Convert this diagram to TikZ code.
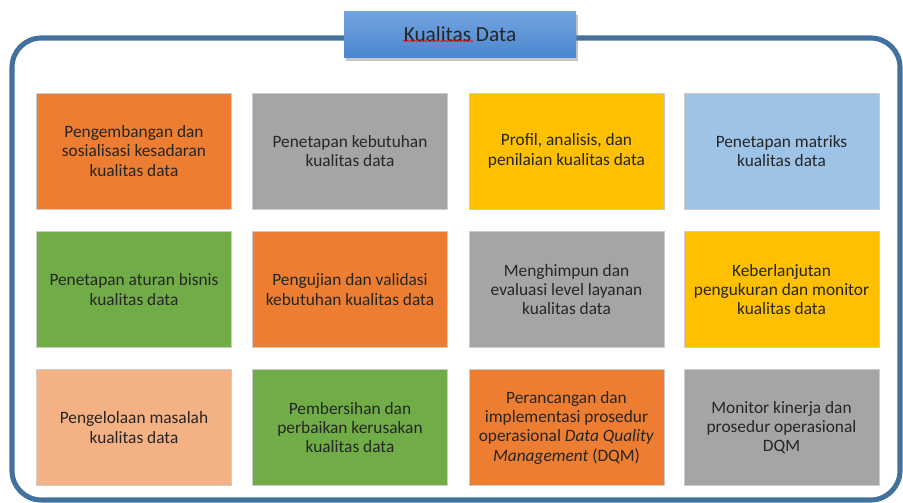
\documentclass[tikz,border=0pt]{standalone}
\usepackage{fontspec}
\setmainfont{Carlito}
\usepackage{tikz}
\usetikzlibrary{shadows,decorations.pathmorphing}

\definecolor{framecol}{HTML}{41719C}
\definecolor{orangebox}{HTML}{ED7D31}
\definecolor{graybox}{HTML}{A5A5A5}
\definecolor{goldbox}{HTML}{FFC000}
\definecolor{bluebox}{HTML}{9DC3E6}
\definecolor{greenbox}{HTML}{70AD47}
\definecolor{peachbox}{HTML}{F4B183}
\definecolor{titletop}{HTML}{72A4DF}
\definecolor{titlebot}{HTML}{4A86CE}

\tikzset{
  kbox/.style={rectangle,draw=white!80!black,line width=0.4pt,minimum width=146pt,minimum height=87pt,
    align=center,text=black!85,font=\fontsize{13}{14.5}\selectfont},
  titlebox/.style={rectangle,minimum width=174pt,minimum height=34.5pt,top color=titletop,bottom color=titlebot,
    drop shadow={shadow xshift=1.5pt,shadow yshift=-2pt,opacity=0.45},font=\fontsize{16}{18}\selectfont,text=black!85}
}

\begin{document}
\begin{tikzpicture}[x=0.75pt,y=-0.75pt]
\useasboundingbox (0,0) rectangle (903,503);
\draw[framecol,line width=3.8pt,rounded corners=22pt] (12,38) rectangle (900,500);

\node[titlebox] (judul) at (460,35) {\raisebox{1.5pt}{Kualitas Data}};
\draw[red,line width=0.5pt,decorate,decoration={snake,amplitude=0.5pt,segment length=2.6pt}] (403,41) -- (473,41);

\node[kbox,fill=orangebox] (k1) at (134,151) {Pengembangan dan\\sosialisasi kesadaran\\kualitas data};
\node[kbox,fill=graybox] (k2) at (350,151) {Penetapan kebutuhan\\kualitas data};
\node[kbox,fill=goldbox] (k3) at (566.5,151) {Profil, analisis, dan\\penilaian kualitas data};
\node[kbox,fill=bluebox] (k4) at (781.5,151) {Penetapan matriks\\kualitas data};

\node[kbox,fill=greenbox] (k5) at (134,289.5) {Penetapan aturan bisnis\\kualitas data};
\node[kbox,fill=orangebox] (k6) at (350,289.5) {Pengujian dan validasi\\kebutuhan kualitas data};
\node[kbox,fill=graybox] (k7) at (566.5,289.5) {Menghimpun dan\\evaluasi level layanan\\kualitas data};
\node[kbox,fill=goldbox] (k8) at (781.5,289.5) {Keberlanjutan\\pengukuran dan monitor\\kualitas data};

\node[kbox,fill=peachbox] (k9) at (134,427.5) {Pengelolaan masalah\\kualitas data};
\node[kbox,fill=greenbox] (k10) at (350,427.5) {Pembersihan dan\\perbaikan kerusakan\\kualitas data};
\node[kbox,fill=orangebox] (k11) at (566.5,427.5) {Perancangan dan\\implementasi prosedur\\operasional \textit{Data Quality}\\\textit{Management} (DQM)};
\node[kbox,fill=graybox] (k12) at (781.5,427.5) {Monitor kinerja dan\\prosedur operasional\\DQM};
\end{tikzpicture}
\end{document}
